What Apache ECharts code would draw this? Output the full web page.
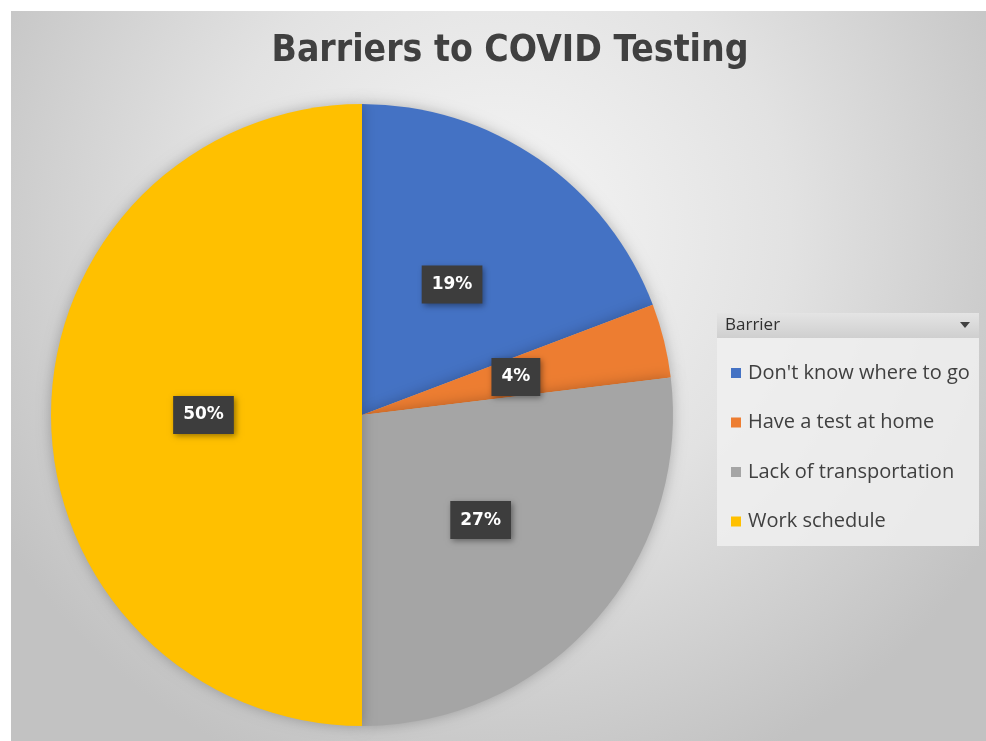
<!DOCTYPE html>
<html>
<head>
<meta charset="utf-8">
<script src="https://cdn.jsdelivr.net/npm/echarts@6/dist/echarts.min.js"></script>
<style>
html, body { margin: 0; padding: 0; background: #fff; }
#chart { width: 986px; height: 741px; }
</style>
</head>
<body>
<div id="chart"></div>
<script>
// chart data
var chartTitle = 'Barriers to COVID Testing';
var legendTitle = 'Barrier';
var categories = ["Don't know where to go", 'Have a test at home', 'Lack of transportation', 'Work schedule'];
var counts = [5, 1, 7, 13];
var colors = ['#4472C4', '#ED7D31', '#A5A5A5', '#FFC000'];

var chart = echarts.init(document.getElementById('chart'));

var pieData = [];
for (var i = 0; i < categories.length; i++) {
    pieData.push({ name: categories[i], value: counts[i] });
}

var option = {
    animation: false,
    color: colors,
    title: {
        text: chartTitle,
        left: 505,
        textAlign: 'center',
        top: 28,
        textStyle: {
            fontFamily: 'Liberation Sans Narrow, DejaVu Sans Condensed, sans-serif',
            fontSize: 37,
            fontWeight: 'bold',
            color: '#404040'
        }
    },
    graphic: [
        {
            type: 'rect',
            z: -10,
            shape: { x: 11, y: 11, width: 975, height: 730 },
            style: {
                fill: new echarts.graphic.RadialGradient(0.5, 0.3, 0.8, [
                    { offset: 0, color: '#f6f6f6' },
                    { offset: 0.5, color: '#e2e2e2' },
                    { offset: 1, color: '#c2c2c2' }
                ])
            }
        },
        {
            type: 'rect',
            z: -5,
            shape: { x: 717, y: 313, width: 262, height: 233 },
            style: { fill: 'rgba(240,240,240,0.85)' }
        },
        {
            type: 'rect',
            z: -4,
            shape: { x: 717, y: 313, width: 262, height: 25 },
            style: {
                fill: new echarts.graphic.LinearGradient(0, 0, 0, 1, [
                    { offset: 0, color: '#e4e4e4' },
                    { offset: 1, color: '#cfcfcf' }
                ])
            }
        },
        {
            type: 'text',
            z: -3,
            style: {
                x: 725, y: 325,
                text: legendTitle,
                verticalAlign: 'middle',
                font: '17px Open Sans',
                fill: '#303030'
            }
        },
        {
            type: 'polygon',
            z: -3,
            shape: { points: [[960, 322], [970, 322], [965, 328]] },
            style: { fill: '#404040' }
        }
    ],
    legend: {
        orient: 'vertical',
        left: 726,
        top: 358,
        icon: 'rect',
        itemWidth: 10,
        itemHeight: 10,
        itemGap: 29.5,
        selectedMode: false,
        data: categories,
        textStyle: {
            fontFamily: 'Open Sans',
            fontSize: 20,
            color: '#404040',
            padding: [0, 0, 0, 2]
        }
    },
    series: [
        {
            type: 'pie',
            center: [362, 415],
            radius: 311,
            startAngle: 90,
            clockwise: true,
            percentPrecision: 0,
            data: pieData,
            itemStyle: {
                shadowBlur: 14,
                shadowColor: 'rgba(0,0,0,0.25)'
            },
            label: {
                show: true,
                position: 'inside',
                formatter: '{d}%',
                color: '#ffffff',
                fontFamily: 'DejaVu Sans',
                fontWeight: 'bold',
                fontSize: 17,
                backgroundColor: '#3d3d3d',
                padding: [11, 10, 10, 10],
                shadowBlur: 6,
                shadowColor: 'rgba(0,0,0,0.4)',
                shadowOffsetX: 2,
                shadowOffsetY: 2
            },
            labelLine: { show: false },
            emphasis: { disabled: true }
        }
    ]
};

chart.setOption(option);
</script>
</body>
</html>
